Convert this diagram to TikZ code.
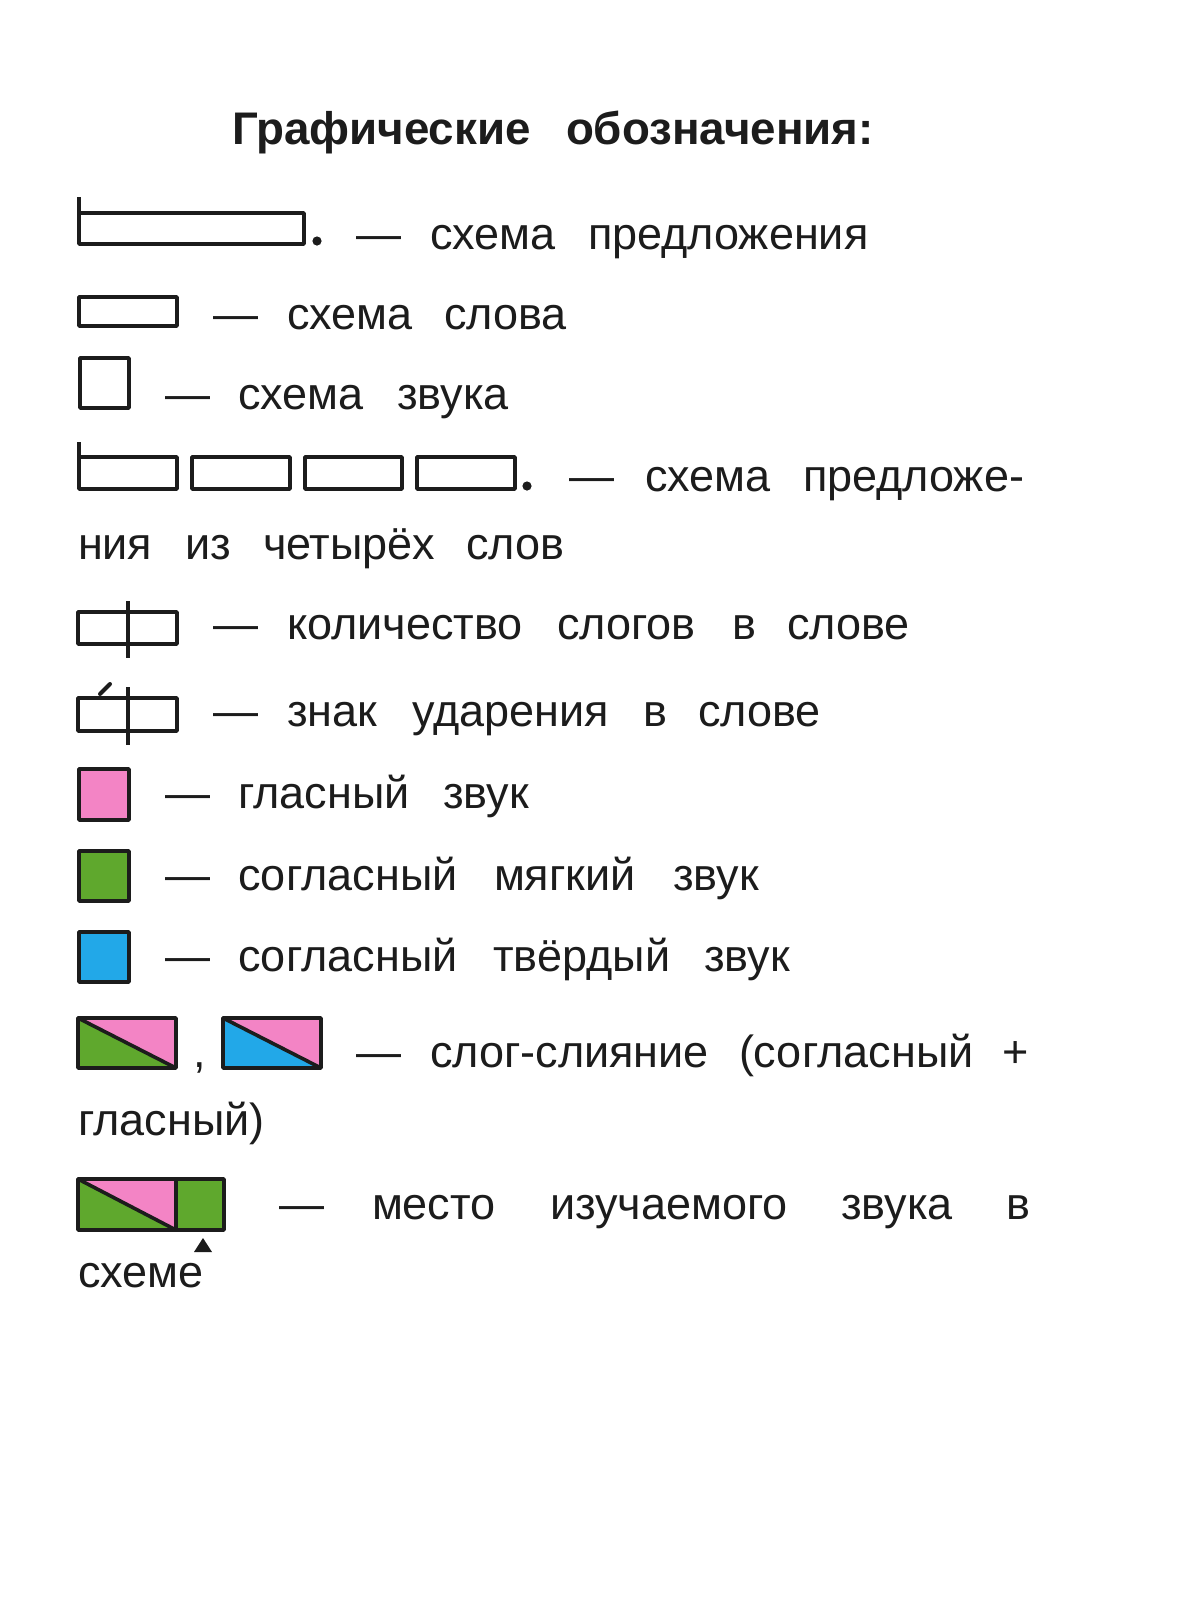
\documentclass[tikz,border=0pt]{standalone}
\usepackage{fontspec}
\setmainfont{Liberation Sans}
\definecolor{ink}{RGB}{28,28,28}
\definecolor{vpink}{RGB}{243,132,197}
\definecolor{cgreen}{RGB}{95,168,45}
\definecolor{cblue}{RGB}{34,168,232}
\begin{document}
\begin{tikzpicture}[x=1pt,y=-1pt,
  wd/.style={anchor=base west, inner sep=0pt, outer sep=0pt, text=ink, font=\fontsize{45}{50}\selectfont},
  ttl/.style={wd, font=\fontsize{45.7}{50}\selectfont\bfseries},
  box/.style={draw=ink, line width=3.6pt, line join=round},
  thin/.style={draw=ink, line width=3.2pt}]
\useasboundingbox[fill=white] (0,0) rectangle (1200,1604);

% Title
\node[ttl] (title1) at (232,144) {Графические};
\node[ttl] (title2) at (566,144) {обозначения:};

% Row 1: sentence scheme
\draw[box] (79,197) -- (79,244) -- (304,244) -- (304,213) -- (79,213);
\fill[ink] (317,241) circle[radius=4.6pt];
\node[wd] (d1) at (356,249.5) {—};
\node[wd] (r1a) at (430,249.5) {схема};
\node[wd] (r1b) at (588,249.5) {предложения};

% Row 2: word scheme
\draw[box] (79,297) rectangle (177,326);
\node[wd] (d2) at (213,329) {—};
\node[wd] (r2a) at (287,329) {схема};
\node[wd] (r2b) at (444,329) {слова};

% Row 3: sound scheme
\draw[box] (80,358) rectangle (129,408);
\node[wd] (d3) at (165,409) {—};
\node[wd] (r3a) at (238,409) {схема};
\node[wd] (r3b) at (397,409) {звука};

% Row 4: sentence of four words
\draw[box] (79,442) -- (79,489) -- (177,489) -- (177,457) -- (79,457);
\draw[box] (192,457) rectangle (290,489);
\draw[box] (305,457) rectangle (402,489);
\draw[box] (417,457) rectangle (515,489);
\fill[ink] (527,486) circle[radius=4.6pt];
\node[wd] (d4) at (569,491) {—};
\node[wd] (r4a) at (645,491) {схема};
\node[wd] (r4b) at (803,491) {предложе-};
\node[wd] (r4c) at (78,559) {ния};
\node[wd] (r4d) at (185,559) {из};
\node[wd] (r4e) at (263,559) {четырёх};
\node[wd] (r4f) at (466,559) {слов};

% Row 5: syllables
\draw[box] (78,612) rectangle (177,644);
\draw[thin] (128,601) -- (128,658);
\node[wd] (d5) at (213,639.5) {—};
\node[wd] (r5a) at (287,639.5) {количество};
\node[wd] (r5b) at (557,639.5) {слогов};
\node[wd] (r5c) at (732,639.5) {в};
\node[wd] (r5d) at (787,639.5) {слове};

% Row 6: stress
\draw[box] (78,698) rectangle (177,731);
\draw[thin] (128,687) -- (128,745);
\draw[ink, line width=4pt, line cap=round] (100,694) -- (110,684);
\node[wd] (d6) at (213,726.5) {—};
\node[wd] (r6a) at (287,726.5) {знак};
\node[wd] (r6b) at (412,726.5) {ударения};
\node[wd] (r6c) at (643,726.5) {в};
\node[wd] (r6d) at (698,726.5) {слове};

% Row 7: vowel
\draw[box, fill=vpink] (79,769) rectangle (129,820);
\node[wd] (d7) at (165,808) {—};
\node[wd] (r7a) at (238,808) {гласный};
\node[wd] (r7b) at (443,808) {звук};

% Row 8: soft consonant
\draw[box, fill=cgreen] (79,851) rectangle (129,901);
\node[wd] (d8) at (165,890) {—};
\node[wd] (r8a) at (238,890) {согласный};
\node[wd] (r8b) at (494,890) {мягкий};
\node[wd] (r8c) at (673,890) {звук};

% Row 9: hard consonant
\draw[box, fill=cblue] (79,932) rectangle (129,982);
\node[wd] (d9) at (165,971) {—};
\node[wd] (r9a) at (238,971) {согласный};
\node[wd] (r9b) at (493,971) {твёрдый};
\node[wd] (r9c) at (704,971) {звук};

% Row 10: syllable-merge
\fill[vpink] (78,1018) rectangle (176,1068);
\fill[cgreen] (78,1018) -- (176,1068) -- (78,1068) -- cycle;
\draw[box] (78,1018) rectangle (176,1068);
\draw[box] (78,1018) -- (176,1068);
\node[wd] (comma) at (193,1067) {,};
\fill[vpink] (223,1018) rectangle (321,1068);
\fill[cblue] (223,1018) -- (321,1068) -- (223,1068) -- cycle;
\draw[box] (223,1018) rectangle (321,1068);
\draw[box] (223,1018) -- (321,1068);
\node[wd] (d10) at (356,1067) {—};
\node[wd] (r10a) at (430,1067) {слог-слияние};
\node[wd] (r10b) at (739,1067) {(согласный};
\node[wd] (r10c) at (1002,1067) {+};
\node[wd] (r10d) at (78,1135) {гласный)};

% Row 11: studied sound place
\fill[cgreen] (78,1179) rectangle (224,1230);
\fill[vpink] (78,1179) -- (176,1179) -- (176,1230) -- cycle;
\draw[box] (78,1179) rectangle (224,1230);
\draw[box] (176,1179) -- (176,1230);
\draw[box] (78,1179) -- (176,1230);
\fill[ink] (203,1238) -- (212,1252) -- (194,1252) -- cycle;
\node[wd] (d11) at (279,1219.5) {—};
\node[wd] (r11a) at (372,1219.5) {место};
\node[wd] (r11b) at (550,1219.5) {изучаемого};
\node[wd] (r11c) at (841,1219.5) {звука};
\node[wd] (r11d) at (1006,1219.5) {в};
\node[wd] (r11e) at (78,1287.5) {схеме};
\end{tikzpicture}
\end{document}
